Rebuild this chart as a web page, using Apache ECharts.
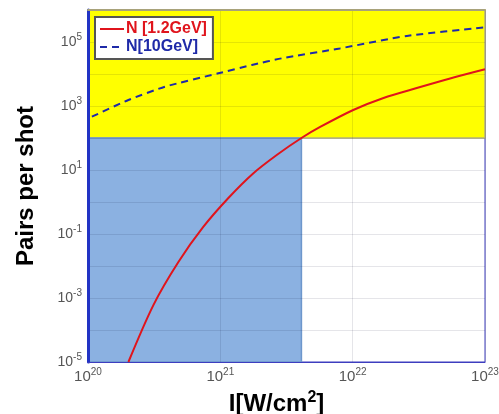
<!DOCTYPE html>
<html>
<head>
<meta charset="utf-8">
<script src="https://cdn.jsdelivr.net/npm/echarts@6/dist/echarts.min.js"></script>
<style>
  html, body { margin: 0; padding: 0; background: #ffffff; }
  #chart { width: 499px; height: 414px; }
</style>
</head>
<body>
<div id="chart"></div>
<script>
// Pair yield per shot versus laser intensity (log-log)
const seriesNames = ['N [1.2GeV]', 'N[10GeV]'];

// [intensity W/cm^2, pairs per shot]
const pairs12GeV = [
  [2.02e20, 1.0e-5],
  [3.12e20, 6.0e-4],
  [4.82e20, 1.33e-2],
  [7.43e20, 0.166],
  [1.15e21, 1.33],
  [1.77e21, 7.8],
  [2.70e21, 30.5],
  [4.1e21, 100],
  [5.68e21, 221],
  [1.01e22, 750],
  [1.71e22, 1780],
  [3.05e22, 3640],
  [5.45e22, 7240],
  [1.0e23, 14000]
];
const pairs10GeV = [
  [1.07e20, 463],
  [2.02e20, 1540],
  [3.82e20, 4010],
  [9.66e20, 10500],
  [1.73e21, 19100],
  [2.91e21, 30900],
  [8.0e21, 63000],
  [2.57e22, 155000],
  [1.0e23, 288000]
];

// axis ranges and shaded regions
const intensityRange = [1e20, 1e23];
const pairsRange = [1e-5, 1e6];
const pairsThreshold = 100;          // boundary between the two shaded bands
const thresholdIntensity = 4.1e21;   // 1.2 GeV curve reaches the threshold here

const font = '"Liberation Sans", Arial, sans-serif';
const gridLineColor = 'rgba(0, 0, 40, 0.1)';

function powLabel(value) {
  const e = Math.round(Math.log10(value));
  return '{b|10}{s|' + e + '}';
}

const chart = echarts.init(document.getElementById('chart'), null, { renderer: 'canvas' });

chart.setOption({
  animation: false,
  backgroundColor: '#ffffff',
  grid: {
    left: 88, right: 14, top: 10, bottom: 52,
    outerBoundsMode: 'none',
    containLabel: false,
    show: true,
    borderColor: '#3d3dbf',
    borderWidth: 1
  },
  legend: {
    orient: 'vertical',
    left: 95, top: 17,
    backgroundColor: '#ffffff',
    borderColor: '#555555',
    borderWidth: 2,
    padding: [3, 6, 3, 4],
    itemGap: 0,
    itemWidth: 24,
    itemHeight: 14,
    itemStyle: { opacity: 0 },
    data: [
      { name: seriesNames[0], textStyle: { color: '#e0141c' } },
      { name: seriesNames[1], textStyle: { color: '#1f2aa8' } }
    ],
    textStyle: { fontFamily: font, fontWeight: 'bold', fontSize: 16, lineHeight: 18, padding: [0, 0, 0, -3] }
  },
  xAxis: [{
    type: 'log',
    logBase: 10,
    min: intensityRange[0],
    max: intensityRange[1],
    interval: 1,
    z: 2,
    name: '{n|I[W/cm}{p|2}{n|]}',
    nameLocation: 'middle',
    nameGap: 20,
    nameTextStyle: {
      padding: [0, 20, 0, 0],
      rich: {
        n: { fontFamily: font, fontWeight: 'bold', fontSize: 24, color: '#000', lineHeight: 28 },
        p: { fontFamily: font, fontWeight: 'bold', fontSize: 16, color: '#000', lineHeight: 28, padding: [0, 0, 13, 0] }
      }
    },
    axisLine: { show: true, lineStyle: { color: '#3d3dbf', width: 1 } },
    axisTick: { show: false },
    splitLine: { show: true, lineStyle: { color: gridLineColor, width: 1 } },
    minorTick: { show: false },
    axisLabel: {
      margin: 5,
      showMinLabel: true,
      showMaxLabel: true,
      formatter: powLabel,
      rich: {
        b: { fontFamily: font, fontSize: 15, color: '#555' },
        s: { fontFamily: font, fontSize: 10, color: '#555', padding: [0, 0, 10, 0] }
      }
    }
  }, {
    type: 'log',
    logBase: 10,
    min: intensityRange[0],
    max: intensityRange[1],
    position: 'top',
    z: 2,
    axisLine: { show: true, lineStyle: { color: '#a8a27a', width: 2 } },
    axisTick: { show: false },
    axisLabel: { show: false },
    splitLine: { show: false }
  }],
  yAxis: {
    type: 'log',
    logBase: 10,
    min: pairsRange[0],
    max: pairsRange[1],
    interval: 1,
    z: 2,
    name: 'Pairs per shot',
    nameLocation: 'middle',
    nameRotate: 90,
    nameGap: 50,
    nameTextStyle: { fontFamily: font, fontWeight: 'bold', fontSize: 24, color: '#000' },
    axisLine: { show: true, lineStyle: { color: '#2233c4', width: 3 } },
    axisTick: { show: false },
    splitLine: { show: true, lineStyle: { color: gridLineColor, width: 1 } },
    axisLabel: {
      margin: 6,
      formatter: function (v) {
        const e = Math.round(Math.log10(v));
        return (Math.abs(e) % 2 === 1) ? powLabel(v) : '';
      },
      rich: {
        b: { fontFamily: font, fontSize: 14, color: '#555' },
        s: { fontFamily: font, fontSize: 10, color: '#555', padding: [0, 0, 9, 0] }
      }
    }
  },
  series: [
    {
      // shaded bands behind the grid lines and curves
      name: 'bands',
      type: 'line',
      data: [],
      z: 1,
      silent: true,
      markArea: {
        silent: true,
        data: [
          [
            { xAxis: intensityRange[0], yAxis: pairsThreshold,
              itemStyle: { color: '#ffff00', opacity: 1, borderColor: '#b4b07a', borderWidth: 1.5 } },
            { xAxis: intensityRange[1], yAxis: pairsRange[1] }
          ],
          [
            { xAxis: intensityRange[0], yAxis: pairsRange[0],
              itemStyle: { color: '#8bb1e1', opacity: 1, borderColor: '#6d97cc', borderWidth: 1.5 } },
            { xAxis: thresholdIntensity, yAxis: pairsThreshold }
          ]
        ]
      }
    },
    {
      name: seriesNames[0],
      type: 'line',
      data: pairs12GeV,
      smooth: 0.3,
      showSymbol: false,
      symbol: 'none',
      lineStyle: { color: '#e0141c', width: 2 },
      itemStyle: { color: '#e0141c' },
      z: 4
    },
    {
      name: seriesNames[1],
      type: 'line',
      data: pairs10GeV,
      smooth: 0.2,
      showSymbol: false,
      symbol: 'none',
      lineStyle: { color: '#1f2aa8', width: 2, type: [7, 5] },
      itemStyle: { color: '#1f2aa8' },
      z: 4
    }
  ]
});
</script>
</body>
</html>
